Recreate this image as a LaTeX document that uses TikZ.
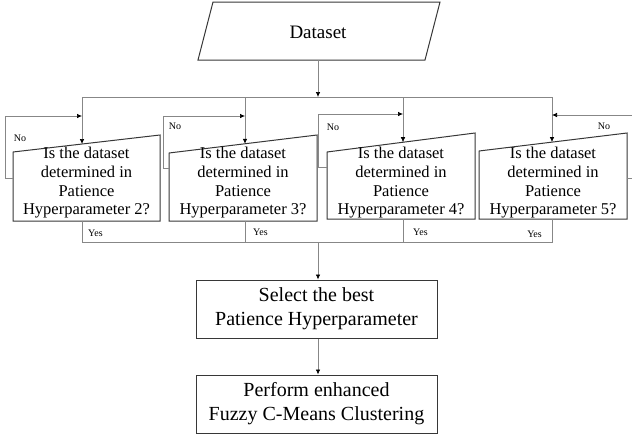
\documentclass[tikz,border=0pt]{standalone}
\usepackage{fontspec}
\setmainfont{Liberation Serif}
\usetikzlibrary{arrows.meta,calc}
\definecolor{boxgray}{RGB}{55,55,55}
\definecolor{linegray}{RGB}{135,135,135}

\begin{document}
\begin{tikzpicture}[x=1pt,y=-1pt,
    box/.style={draw=boxgray, line width=1pt},
    conn/.style={draw=linegray, line width=0.7pt},
    arr/.style={conn, -{Latex[length=5pt,width=4.5pt,color=black]}},
    qtext/.style={align=center, inner sep=0pt, font=\fontsize{16.5}{18.7}\selectfont},
    stepbox/.style={box, minimum width=241pt, minimum height=58pt, align=center, inner sep=0pt, font=\fontsize{20}{24}\selectfont},
    small/.style={inner sep=0pt, font=\fontsize{10}{12}\selectfont}]
    \useasboundingbox (0,0) rectangle (632,437);
    \draw[box] (213,2) -- (440,2) -- (425,60) -- (198,60) -- cycle;
    \node[inner sep=0pt, font=\fontsize{19}{22}\selectfont] (data) at (318,32) {Dataset};
    \coordinate (data-bot) at (318,60);
    \coordinate (bus) at (318,97);
    \coordinate (yesbus) at (318,242.5);
    \foreach \i/\lx/\rx/\ytl/\ytr/\yb/\cx in {1/13/160/152/135/221/82, 2/169/317/153/135/221/245, 3/327/475/152/133/219/403, 4/479/627/151/133/219/552}{
        \pgfmathtruncatemacro\hp{\i+1}
        \draw[box] (\lx,\ytl) -- (\rx,\ytr) -- (\rx,\yb) -- (\lx,\yb) -- cycle;
        \node[qtext] (q\i) at ({(\lx+\rx)/2},183) {Is the dataset\\determined in\\Patience\\Hyperparameter \hp?};
        \coordinate (q\i-top) at ($(\lx,\ytl)!{(\cx-\lx)/(\rx-\lx)}!(\rx,\ytr)$);
        \coordinate (q\i-bot) at (\cx,\yb);
    }
    \coordinate (q1-no) at (13,178);
    \coordinate (q2-no) at (169,168);
    \coordinate (q3-no) at (327,167);
    \coordinate (q4-no) at (627,178);
    \coordinate (q1-loop) at (82,116);
    \coordinate (q2-loop) at (245,116);
    \coordinate (q3-loop) at (403,114);
    \coordinate (q4-loop) at (552,115);
    \node[stepbox] (sel) at (316.5,309) {Select the best\\Patience Hyperparameter};
    \node[stepbox] (perf) at (316.5,404) {Perform enhanced\\Fuzzy C-Means Clustering};

    \draw[arr] (data-bot) -- (bus);
    \draw[conn] (q1-top |- bus) -- (q4-top |- bus);
    \foreach \i in {1,...,4}{
        \draw[arr] (q\i-top |- bus) -- (q\i-top);
        \draw[conn] (q\i-bot) -- (q\i-bot |- yesbus);
    }
    \draw[arr] (q1-no) -- ++(-8,0) |- (q1-loop);
    \draw[arr] (q2-no) -- ++(-6,0) |- (q2-loop);
    \draw[arr] (q3-no) -- ++(-9,0) |- (q3-loop);
    \draw[arr] (q4-no) -- ++(5,0) |- (q4-loop);
    \draw[conn] (q1-bot |- yesbus) -- (q4-bot |- yesbus);
    \draw[arr] (yesbus) -- (yesbus |- sel.north);
    \draw[arr] (sel.south -| yesbus) -- (yesbus |- perf.north);

    \node[small] (no1) at (20,138) {No};
    \node[small] (no2) at (175,126) {No};
    \node[small] (no3) at (333,127) {No};
    \node[small] (no4) at (604,126) {No};
    \node[small, anchor=west] (yes1) at (88,233) {Yes};
    \node[small, anchor=west] (yes2) at (253,232) {Yes};
    \node[small, anchor=west] (yes3) at (413,232) {Yes};
    \node[small, anchor=east] (yes4) at (542,234) {Yes};
\end{tikzpicture}
\end{document}
